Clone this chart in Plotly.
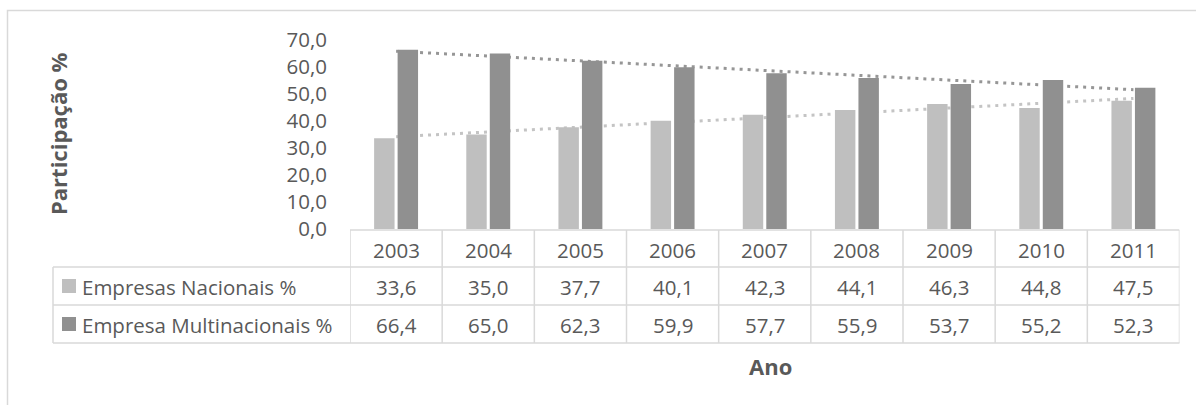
import numpy as np
import plotly.graph_objects as go

# Data
anos = ["2003", "2004", "2005", "2006", "2007", "2008", "2009", "2010", "2011"]
nacionais = [33.6, 35.0, 37.7, 40.1, 42.3, 44.1, 46.3, 44.8, 47.5]
multinacionais = [66.4, 65.0, 62.3, 59.9, 57.7, 55.9, 53.7, 55.2, 52.3]
serie_nomes = ["Empresas Nacionais %", "Empresa Multinacionais %"]
y_ticks = [0, 10, 20, 30, 40, 50, 60, 70]

W, H = 1196, 405
COR_CLARA = "#bfbfbf"
COR_ESCURA = "#909090"
COR_TEXTO = "#595959"
COR_GRADE = "#d9d9d9"
FONTE = "Open Sans"
TAM = 20.5
TAM_TIT = 22


def px(x):
    return x / W


def py(y):
    return 1 - y / H


def fmt(v):
    return f"{v:.1f}".replace(".", ",")


# plot area in pixels
X0, X1 = 350, 1179.5
Y_TOP, Y_BOT = 40, 229

fig = go.Figure()

# linear trendlines (drawn on the base axes, underneath the bars)
idx = np.arange(len(anos))
for vals, cor in [(nacionais, "#c4c4c4"), (multinacionais, "#969696")]:
    a, b = np.polyfit(idx, vals, 1)
    fig.add_trace(go.Scatter(
        x=idx, y=a * idx + b, mode="lines",
        line=dict(color=cor, width=3, dash="3px,5px"),
        showlegend=False, hoverinfo="skip", xaxis="x", yaxis="y"))

# bars on the overlaying axes
for vals, cor, nome in [(nacionais, COR_CLARA, serie_nomes[0]),
                        (multinacionais, COR_ESCURA, serie_nomes[1])]:
    fig.add_trace(go.Bar(
        x=idx, y=vals, name=nome, marker=dict(color=cor, line=dict(width=0)),
        showlegend=False, xaxis="x2", yaxis="y2"))

xdom = [px(X0), px(X1)]
ydom = [py(Y_BOT), py(Y_TOP)]
xr = [-0.5, len(anos) - 0.5]
hidden = dict(showticklabels=False, showgrid=False, zeroline=False,
              showline=False, ticks="", automargin=False)

fig.update_layout(
    width=W, height=H,
    margin=dict(l=0, r=0, t=0, b=0, autoexpand=False),
    paper_bgcolor="white", plot_bgcolor="rgba(0,0,0,0)",
    barmode="group", bargap=0.49, bargroupgap=0.13,
    font=dict(family=FONTE, size=TAM, color=COR_TEXTO),
    xaxis=dict(domain=xdom, range=xr, **hidden),
    yaxis=dict(domain=ydom, range=[0, 70], tickvals=y_ticks,
               ticktext=[fmt(v) for v in y_ticks], showgrid=False,
               zeroline=False, showline=False, ticks="", ticklabelstandoff=22,
               automargin=False,
               tickfont=dict(family=FONTE, size=TAM, color=COR_TEXTO)),
    xaxis2=dict(domain=xdom, range=xr, overlaying="x", **hidden),
    yaxis2=dict(domain=ydom, range=[0, 70], overlaying="y", **hidden),
)

shapes = []
ann = []

# outer chart border
shapes.append(dict(type="rect", xref="paper", yref="paper",
                   x0=px(7.5), x1=px(1210), y0=py(420), y1=py(10.5),
                   line=dict(color=COR_GRADE, width=1.5), fillcolor="rgba(0,0,0,0)"))

# data table grid
ROWS = [230, 267, 305, 343]
linha = dict(color=COR_GRADE, width=1.5)
# header row top (only across data columns)
shapes.append(dict(type="line", xref="x", yref="paper", x0=xr[0], x1=xr[1],
                   y0=py(ROWS[0]), y1=py(ROWS[0]), line=linha))
for yy in ROWS[1:]:
    shapes.append(dict(type="line", xref="paper", yref="paper", x0=px(53), x1=px(X1),
                       y0=py(yy), y1=py(yy), line=linha))
shapes.append(dict(type="line", xref="paper", yref="paper", x0=px(53), x1=px(53),
                   y0=py(ROWS[1]), y1=py(ROWS[3]), line=linha))
for i in range(len(anos) + 1):
    shapes.append(dict(type="line", xref="x", yref="paper", x0=i - 0.5, x1=i - 0.5,
                       y0=py(ROWS[0]), y1=py(ROWS[3]), line=linha))

row_c = [(ROWS[k] + ROWS[k + 1]) / 2 for k in range(3)]
for i, ano in enumerate(anos):
    for r, txt in enumerate([ano, fmt(nacionais[i]), fmt(multinacionais[i])]):
        ann.append(dict(x=i, xref="x", y=py(row_c[r] + 1), yref="paper", text=txt,
                        showarrow=False, xanchor="center", yanchor="middle"))

# legend keys inside the table
for k, (nome, cor) in enumerate(zip(serie_nomes, [COR_CLARA, COR_ESCURA])):
    yc = row_c[k + 1]
    shapes.append(dict(type="rect", xref="paper", yref="paper",
                       x0=px(62), x1=px(76), y0=py(yc + 7), y1=py(yc - 7),
                       fillcolor=cor, line=dict(width=0)))
    ann.append(dict(x=px(80), xref="paper", y=py(yc + 1), yref="paper", text=nome,
                    showarrow=False, xanchor="left", yanchor="middle"))

# axis titles
ann.append(dict(x=px(58), xref="paper", y=py(134), yref="paper",
                text="<b>Participação %</b>", textangle=-90, showarrow=False,
                xanchor="center", yanchor="middle", font=dict(size=TAM_TIT)))
ann.append(dict(x=px(770), xref="paper", y=py(366), yref="paper",
                text="<b>Ano</b>", showarrow=False,
                xanchor="center", yanchor="middle", font=dict(size=TAM_TIT)))

fig.update_layout(shapes=shapes, annotations=ann)
fig.write_html("out.html")
